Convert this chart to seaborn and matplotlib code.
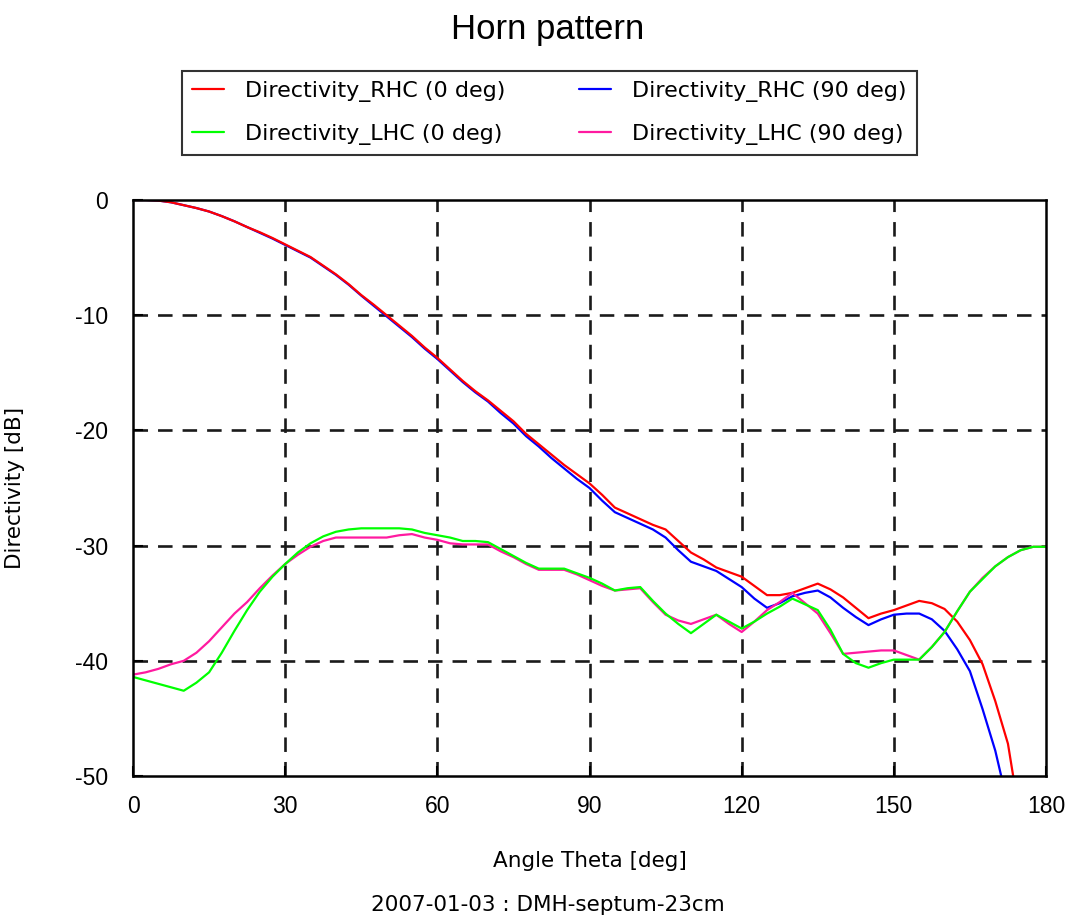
import numpy as np
import pandas as pd
import matplotlib
matplotlib.use("Agg")
import matplotlib.pyplot as plt
from matplotlib.lines import Line2D
import seaborn as sns

theta = np.arange(0, 180.01, 2.5)

rhc_0 = [0.0, 0.0, -0.05, -0.2, -0.45, -0.7, -1.0, -1.4, -1.85, -2.35,
         -2.8, -3.3, -3.85, -4.4, -4.95, -5.7, -6.45, -7.3, -8.25, -9.1,
         -10.0, -10.9, -11.8, -12.8, -13.7, -14.7, -15.7, -16.6, -17.4, -18.3,
         -19.2, -20.3, -21.2, -22.1, -23.0, -23.8, -24.6, -25.6, -26.7, -27.2,
         -27.7, -28.2, -28.6, -29.6, -30.6, -31.2, -31.9, -32.3, -32.7, -33.5,
         -34.3, -34.3, -34.1, -33.7, -33.3, -33.8, -34.5, -35.4, -36.3, -35.9,
         -35.6, -35.2, -34.8, -35.0, -35.5, -36.6, -38.2, -40.3, -43.5, -47.2,
         -54.0, np.nan, np.nan]

rhc_90 = [0.0, 0.0, -0.05, -0.2, -0.45, -0.7, -1.0, -1.4, -1.85, -2.35,
          -2.85, -3.35, -3.9, -4.45, -5.0, -5.75, -6.5, -7.35, -8.3, -9.2,
          -10.1, -11.0, -11.9, -12.9, -13.8, -14.8, -15.8, -16.7, -17.5, -18.5,
          -19.4, -20.5, -21.4, -22.4, -23.3, -24.2, -25.0, -26.1, -27.1, -27.6,
          -28.1, -28.6, -29.3, -30.4, -31.4, -31.8, -32.2, -32.9, -33.6, -34.6,
          -35.4, -35.0, -34.4, -34.1, -33.9, -34.5, -35.4, -36.2, -36.9, -36.4,
          -36.0, -35.9, -35.9, -36.4, -37.4, -39.0, -40.9, -44.2, -47.8, -52.5,
          np.nan, np.nan, np.nan]

lhc_0 = [-41.4, -41.7, -42.0, -42.3, -42.6, -41.9, -41.0, -39.3, -37.4, -35.6,
         -34.0, -32.7, -31.6, -30.6, -29.8, -29.2, -28.8, -28.6, -28.5, -28.5,
         -28.5, -28.5, -28.6, -28.9, -29.1, -29.3, -29.6, -29.6, -29.7, -30.3,
         -30.9, -31.5, -32.0, -32.0, -32.0, -32.4, -32.8, -33.3, -33.9, -33.7,
         -33.6, -34.8, -35.9, -36.8, -37.6, -36.8, -36.0, -36.6, -37.2, -36.6,
         -35.9, -35.3, -34.6, -35.1, -35.6, -37.3, -39.4, -40.2, -40.6, -40.2,
         -39.9, -39.9, -39.9, -38.8, -37.5, -35.7, -34.0, -32.9, -31.8, -31.0,
         -30.4, -30.1, -30.1]

lhc_90 = [-41.2, -41.0, -40.7, -40.3, -40.0, -39.3, -38.3, -37.1, -35.9, -34.9,
          -33.7, -32.6, -31.6, -30.8, -30.1, -29.6, -29.3, -29.3, -29.3, -29.3,
          -29.3, -29.1, -29.0, -29.3, -29.5, -29.8, -29.9, -29.9, -29.9, -30.5,
          -31.0, -31.6, -32.1, -32.1, -32.1, -32.5, -33.0, -33.5, -33.9, -33.8,
          -33.7, -34.9, -36.0, -36.5, -36.8, -36.4, -36.0, -36.8, -37.5, -36.6,
          -35.6, -34.9, -34.1, -35.0, -35.9, -37.6, -39.4, -39.3, -39.2, -39.1,
          -39.1, -39.5, -39.9, -38.8, -37.5, -35.7, -34.0, -32.8, -31.8, -31.0,
          -30.4, -30.1, -30.1]

labels = ["Directivity_RHC (0 deg)", "Directivity_RHC (90 deg)",
          "Directivity_LHC (0 deg)", "Directivity_LHC (90 deg)"]
colors = {labels[0]: "#ff0000", labels[1]: "#0000ff",
          labels[2]: "#00ff00", labels[3]: "#ff1aa0"}
x_ticks = [0, 30, 60, 90, 120, 150, 180]
y_ticks = [0, -10, -20, -30, -40, -50]

frames = []
for lab, vals in zip(labels, [rhc_0, rhc_90, lhc_0, lhc_90]):
    frames.append(pd.DataFrame({"theta": theta, "dB": vals, "series": lab}))
df = pd.concat(frames, ignore_index=True).dropna()

sns.set_style("white")
plt.rcParams["font.family"] = ["DejaVu Sans"]
plt.rcParams["text.color"] = "black"
plt.rcParams["axes.labelcolor"] = "black"
plt.rcParams["xtick.color"] = "black"
plt.rcParams["ytick.color"] = "black"

fig = plt.figure(figsize=(10.66, 9.19), dpi=100)
ax = fig.add_axes([133 / 1066, 143 / 919, 913 / 1066, 576 / 919])

draw_order = [labels[1], labels[0], labels[3], labels[2]]
sns.lineplot(data=df, x="theta", y="dB", hue="series", hue_order=draw_order,
             palette=colors, linewidth=1.6, ax=ax, legend=False, sort=True,
             estimator=None)

ax.set_xlim(0, 180)
ax.set_ylim(-50, 0)
ax.set_xticks(x_ticks)
ax.set_yticks(y_ticks)
ax.set_xticklabels([str(t) for t in x_ticks], family="Liberation Sans",
                   fontsize=16.5, color="black")
ax.set_yticklabels([str(t) for t in y_ticks], family="Liberation Sans",
                   fontsize=16.5, color="black")
ax.tick_params(axis="both", direction="in", length=7, width=1.5, color="black",
               bottom=True, left=True, top=False, right=False)
ax.tick_params(axis="x", pad=14)
ax.tick_params(axis="y", pad=18)

for s in ax.spines.values():
    s.set_visible(True)
    s.set_color("black")
    s.set_linewidth(1.8)

for xv in x_ticks[1:-1]:
    ax.axvline(xv, color="#1a1a1a", linewidth=1.9, linestyle=(0, (5.5, 3.8)), zorder=0.5)
for yv in y_ticks[1:-1]:
    ax.axhline(yv, color="#1a1a1a", linewidth=1.9, linestyle=(0, (5.5, 3.8)), zorder=0.5)

ax.set_xlabel("Angle Theta [deg]", fontsize=15.5, color="black")
ax.set_ylabel("Directivity [dB]", fontsize=15.5, color="black")
ax.xaxis.set_label_coords(0.5, -0.130)
ax.yaxis.set_label_coords(-0.118, 0.5)

fig.text(0.514, 1 - 30 / 919, "Horn pattern", ha="center", va="center",
         family="Liberation Sans", fontsize=25, color="black")
fig.text(0.514, 1 - 905 / 919, "2007-01-03 : DMH-septum-23cm", ha="center",
         va="center", fontsize=15.5, color="black")

handles = [Line2D([], [], color=colors[l], linewidth=1.6) for l in labels]
order = [0, 2, 1, 3]
leg = fig.legend([handles[i] for i in order], [labels[i] for i in order],
                 ncol=2, loc="upper center", bbox_to_anchor=(0.5155, 1 - 60 / 919),
                 fontsize=16, frameon=True, fancybox=False, shadow=False,
                 handlelength=1.45, handletextpad=0.95, columnspacing=3.3,
                 labelspacing=0.98, borderpad=0.45)
leg.get_frame().set_edgecolor("black")
leg.get_frame().set_linewidth(1.5)

fig.savefig("out.png", dpi=100, facecolor="white")
